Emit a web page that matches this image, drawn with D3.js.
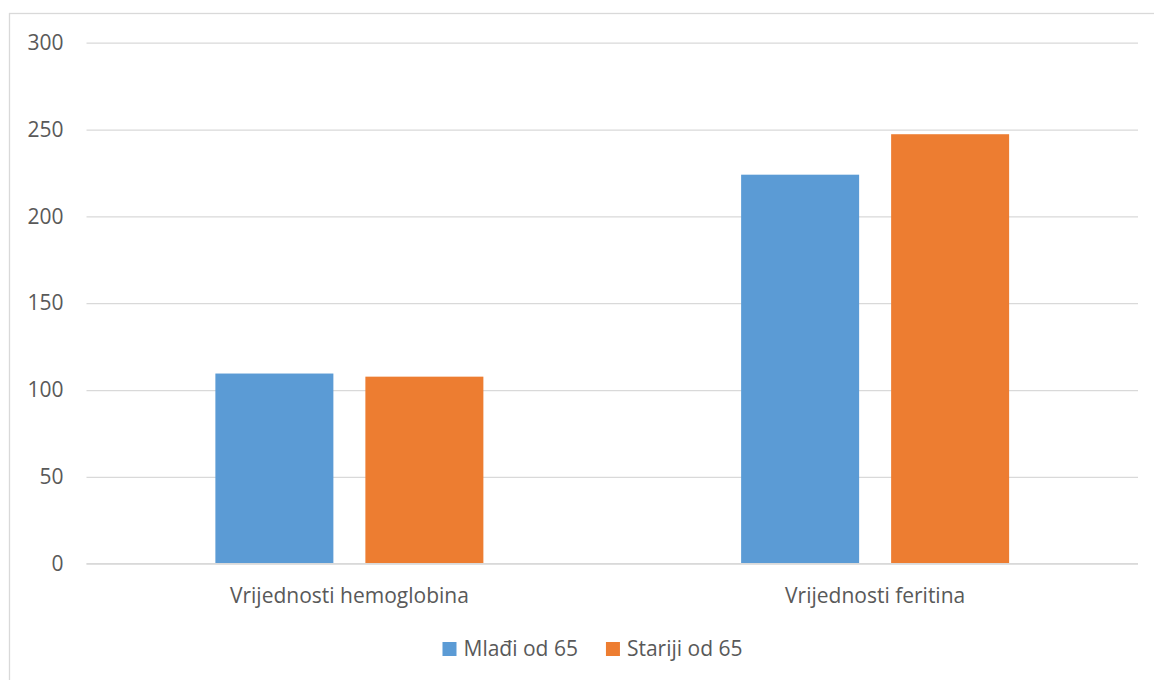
<!DOCTYPE html>
<html>
<head>
<meta charset="utf-8">
<script src="https://cdn.jsdelivr.net/npm/d3@7"></script>
<style>
  html, body { margin: 0; padding: 0; background: #fff; }
  svg { display: block; }
  text { font-family: "Open Sans", "Noto Sans", sans-serif; fill: #595959; }
</style>
</head>
<body>
<svg id="chart" width="1154" height="680"></svg>
<script>
const categories = ["Vrijednosti hemoglobina", "Vrijednosti feritina"];
const seriesNames = ["Mlađi od 65", "Stariji od 65"];
const seriesMladji = [109.5, 224];
const seriesStariji = [107.7, 247.3];
const yTicks = [0, 50, 100, 150, 200, 250, 300];
const colors = ["#5B9BD5", "#ED7D31"];

const seriesValues = [seriesMladji, seriesStariji];
const data = categories.map((c, i) => ({
  category: c,
  values: seriesNames.map((s, j) => ({ series: s, value: seriesValues[j][i], color: colors[j] }))
}));

const FS = "21px";
const svg = d3.select("#chart");

// outer chart border
svg.append("rect")
  .attr("x", 9.5).attr("y", 13.5)
  .attr("width", 1300).attr("height", 800)
  .attr("fill", "none").attr("stroke", "#d9d9d9").attr("stroke-width", 1.3);

const plot = { left: 86.5, right: 1138, top: 42.7, bottom: 563.7 };

const y = d3.scaleLinear().domain([0, 300]).range([plot.bottom, plot.top]);
const x0 = d3.scaleBand().domain(categories).range([plot.left, plot.right]).padding(0);
const groupW = 268;
const x1 = d3.scaleBand().domain(seriesNames)
  .range([(x0.bandwidth() - groupW) / 2, (x0.bandwidth() + groupW) / 2])
  .paddingInner(2 - groupW / 150).paddingOuter(0);

// gridlines + y labels
const yAxis = d3.axisLeft(y).tickValues(yTicks).tickSize(-(plot.right - plot.left)).tickPadding(23);
const gy = svg.append("g").attr("transform", `translate(${plot.left},0)`).call(yAxis);
gy.select(".domain").remove();
gy.selectAll(".tick line").attr("stroke", "#d9d9d9").attr("stroke-width", 1.3);
gy.selectAll(".tick text")
  .attr("fill", "#595959")
  .style("font-size", FS)
  .style("font-family", '"Open Sans", "Noto Sans", sans-serif');

// bars
const groups = svg.append("g").selectAll("g").data(data).join("g")
  .attr("transform", d => `translate(${x0(d.category)},0)`);
groups.selectAll("rect").data(d => d.values).join("rect")
  .attr("x", d => x1(d.series))
  .attr("width", x1.bandwidth())
  .attr("y", d => y(d.value))
  .attr("height", d => y(0) - y(d.value))
  .attr("fill", d => d.color);

// baseline
svg.append("line")
  .attr("x1", plot.left).attr("x2", plot.right)
  .attr("y1", y(0)).attr("y2", y(0))
  .attr("stroke", "#d9d9d9").attr("stroke-width", 1.3);

// category labels
const xAxis = d3.axisBottom(x0).tickSize(0).tickPadding(0);
const gx = svg.append("g").attr("transform", `translate(0,${plot.bottom})`).call(xAxis);
gx.select(".domain").remove();
gx.selectAll(".tick text")
  .attr("y", 0).attr("dy", 0)
  .attr("transform", "translate(0,39.5)")
  .attr("fill", "#595959")
  .style("font-size", FS)
  .style("font-family", '"Open Sans", "Noto Sans", sans-serif');

// legend
const legend = svg.append("g");
const items = legend.selectAll("g").data(seriesNames).join("g");
items.append("rect").attr("width", 14).attr("height", 14).attr("y", -7)
  .attr("fill", (d, i) => colors[i]);
items.append("text").attr("x", 21).attr("y", 0).attr("dy", "0.35em")
  .style("font-size", FS).text(d => d);
let cx = 0;
items.each(function () {
  const g = d3.select(this);
  g.attr("transform", `translate(${cx},0)`);
  cx += 21 + g.select("text").node().getComputedTextLength() + 28;
});
const totalW = cx - 28;
legend.attr("transform", `translate(${592.5 - totalW / 2},649)`);
</script>
</body>
</html>
